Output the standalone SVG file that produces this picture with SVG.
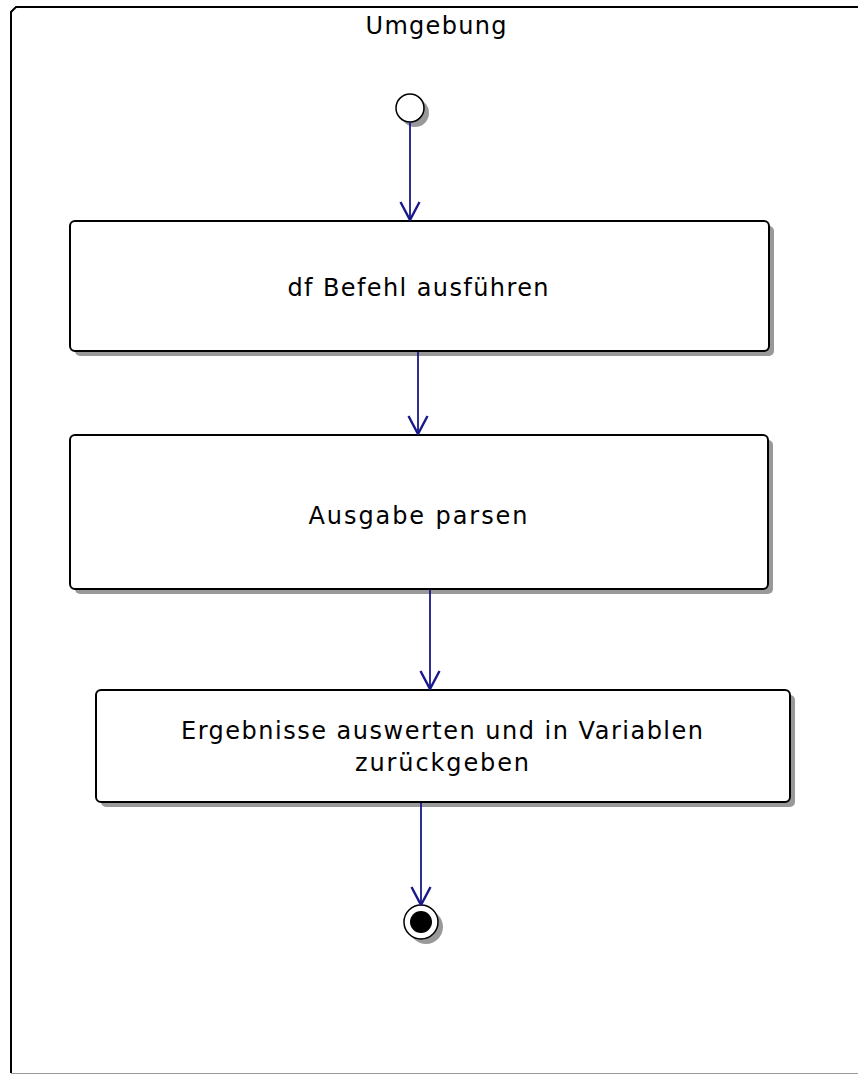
<svg xmlns="http://www.w3.org/2000/svg" width="858" height="1075" viewBox="0 0 858 1075">
  <defs>
    <style>
      .frame { fill: none; stroke: #000; stroke-width: 2; }
      .shadow { fill: #999; }
      .node { fill: #fff; stroke: #000; stroke-width: 2; }
      .label { font-family: "DejaVu Sans", sans-serif; font-size: 24px; fill: #000; text-anchor: middle; }
      .flow { fill: none; stroke: #18188a; stroke-width: 1.8; }
    </style>
    <marker id="open-arrow" viewBox="0 0 20 22" refX="19" refY="11" markerWidth="20" markerHeight="22" markerUnits="userSpaceOnUse" orient="auto">
      <path d="M1,1.5 L19,11 L1,20.5" fill="none" stroke="#18188a" stroke-width="2.4"/>
    </marker>
  </defs>

  <!-- activity partition frame -->
  <g id="frame">
    <path class="frame" d="M11,1073 L11,12 L16,7 L870,7"/>
    <line x1="11" y1="1073.5" x2="858" y2="1073.5" stroke="#999" stroke-width="1"/>
    <text class="label" x="436" y="34" textLength="141" lengthAdjust="spacing">Umgebung</text>
  </g>

  <!-- initial node -->
  <g id="start">
    <circle class="shadow" cx="415" cy="113" r="14"/>
    <circle cx="410" cy="108" r="14" fill="#fff" stroke="#000" stroke-width="1.5"/>
  </g>

  <g id="run-df">
    <rect class="shadow" x="75" y="226" width="699" height="130" rx="5"/>
    <rect class="node" x="70" y="221" width="699" height="130" rx="5"/>
    <text class="label" x="418" y="296" textLength="261" lengthAdjust="spacing">df Befehl ausführen</text>
  </g>

  <g id="parse-output">
    <rect class="shadow" x="75" y="440" width="698" height="154" rx="5"/>
    <rect class="node" x="70" y="435" width="698" height="154" rx="5"/>
    <text class="label" x="418" y="524" textLength="219" lengthAdjust="spacing">Ausgabe parsen</text>
  </g>

  <g id="evaluate-results">
    <rect class="shadow" x="101" y="695" width="694" height="112" rx="5"/>
    <rect class="node" x="96" y="690" width="694" height="112" rx="5"/>
    <text class="label" x="442" y="739" textLength="522" lengthAdjust="spacing">Ergebnisse auswerten und in Variablen</text>
    <text class="label" x="442" y="771" textLength="174" lengthAdjust="spacing">zurückgeben</text>
  </g>

  <!-- final node -->
  <g id="end">
    <circle class="shadow" cx="426" cy="927" r="17"/>
    <circle cx="421" cy="922" r="17" fill="#fff" stroke="#000" stroke-width="1.5"/>
    <circle cx="421" cy="922" r="11" fill="#000"/>
  </g>

  <!-- control flows -->
  <g id="connectors">
    <line class="flow" x1="410" y1="122" x2="410" y2="220" marker-end="url(#open-arrow)"/>
    <line class="flow" x1="418" y1="352" x2="418" y2="434" marker-end="url(#open-arrow)"/>
    <line class="flow" x1="430" y1="590" x2="430" y2="689" marker-end="url(#open-arrow)"/>
    <line class="flow" x1="421" y1="803" x2="421" y2="905" marker-end="url(#open-arrow)"/>
  </g>
</svg>
